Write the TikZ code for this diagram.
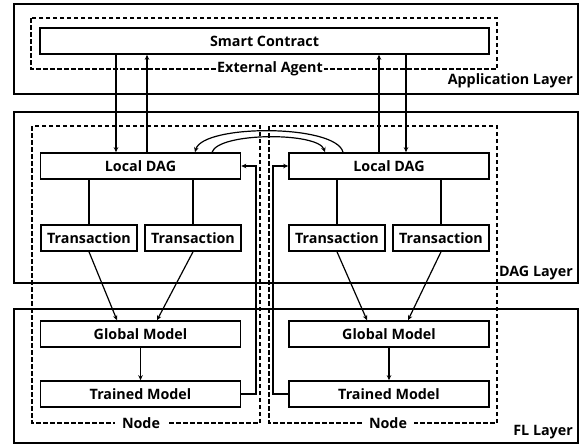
\documentclass[tikz,border=0pt]{standalone}
\usepackage{fontspec}
\setmainfont{Open Sans}
\usetikzlibrary{arrows.meta}
\begin{document}
\begin{tikzpicture}[x=1pt,y=-1pt,
 txt/.style={font=\fontsize{14.3}{16}\selectfont\bfseries},
 box/.style={txt,draw,line width=1.6pt,minimum height=26pt,inner sep=0pt},
 layer/.style={draw,line width=1.6pt},
 dbox/.style={draw,line width=1.2pt,dash pattern=on 4.5pt off 2.5pt},
 conn/.style={line width=1.2pt},
 arr/.style={conn,-{Stealth[length=5pt,width=4.5pt]}},
 lbl/.style={txt,inner sep=1pt},
]
\useasboundingbox (0,0) rectangle (588,445);
% layers
\draw[layer] (14,4) rectangle (578,94);
\draw[layer] (14,112) rectangle (578,283);
\draw[layer] (14,309) rectangle (578,443);
\node[lbl,anchor=east] (appl) at (574,81) {Application Layer};
\node[lbl,anchor=east] (dagl) at (574,273) {DAG Layer};
\node[lbl,anchor=east] (fll) at (574,432) {FL Layer};
% dashed groups
\draw[dbox] (31,18) rectangle (497,69);
\draw[dbox] (32,126) rectangle (260,423);
\draw[dbox] (269,126) rectangle (497,423);
\node[lbl,fill=white] (ea) at (270,69) {External Agent};
\node[lbl,fill=white,inner xsep=7pt] (nodeL) at (141,423) {Node};
\node[lbl,fill=white,inner xsep=7pt] (nodeR) at (388,423) {Node};
% boxes
\node[box,fill=white,minimum width=449pt] (sc) at (264.5,41) {Smart Contract};
\node[box,minimum width=200pt] (ldL) at (140.5,166) {Local DAG};
\node[box,minimum width=200pt] (ldR) at (389,166) {Local DAG};
\node[box,minimum width=96pt] (txL1) at (89,238) {Transaction};
\node[box,minimum width=96pt] (txL2) at (193,238) {Transaction};
\node[box,minimum width=96pt] (txR1) at (337,238) {Transaction};
\node[box,minimum width=96pt] (txR2) at (441,238) {Transaction};
\node[box,minimum width=200pt] (gmL) at (140.5,334) {Global Model};
\node[box,minimum width=200pt] (gmR) at (389,334) {Global Model};
\node[box,minimum width=200pt] (tmL) at (140.5,394) {Trained Model};
\node[box,minimum width=200pt] (tmR) at (389,394) {Trained Model};
% smart contract links
\draw[arr] (sc.south -| 116,0) -- (ldL.north -| 116,0);
\draw[arr] (ldL.north -| 147,0) -- (sc.south -| 147,0);
\draw[arr] (ldR.north -| 379,0) -- (sc.south -| 379,0);
\draw[arr] (sc.south -| 406,0) -- (ldR.north -| 406,0);
% local dag to transactions
\draw[conn] (ldL.south -| txL1.north) -- (txL1.north);
\draw[conn] (ldL.south -| txL2.north) -- (txL2.north);
\draw[conn] (ldR.south -| txR1.north) -- (txR1.north);
\draw[conn] (ldR.south -| txR2.north) -- (txR2.north);
% transactions to global model
\draw[arr] (txL1.south) -- (gmL.north -| 117,0);
\draw[arr] (txL2.south) -- (gmL.north -| 157,0);
\draw[arr] (txR1.south) -- (gmR.north -| 367,0);
\draw[arr] (txR2.south) -- (gmR.north -| 408,0);
% global to trained
\draw[arr] (gmL) -- (tmL);
\draw[arr] (gmR) -- (tmR);
% curves between local DAGs
\draw[arr] (ldR.north -| 343,0) .. controls (336,124) and (203,124) .. (ldL.north -| 195,0);
\draw[arr] (ldL.north -| 212,0) .. controls (219,132) and (318,132) .. (ldR.north -| 325,0);
% trained model back to local DAG
\draw[arr] (tmL.east) -| (256,166) -- (ldL.east);
\draw[arr] (tmR.west) -| (273,166) -- (ldR.west);
\end{tikzpicture}
\end{document}
